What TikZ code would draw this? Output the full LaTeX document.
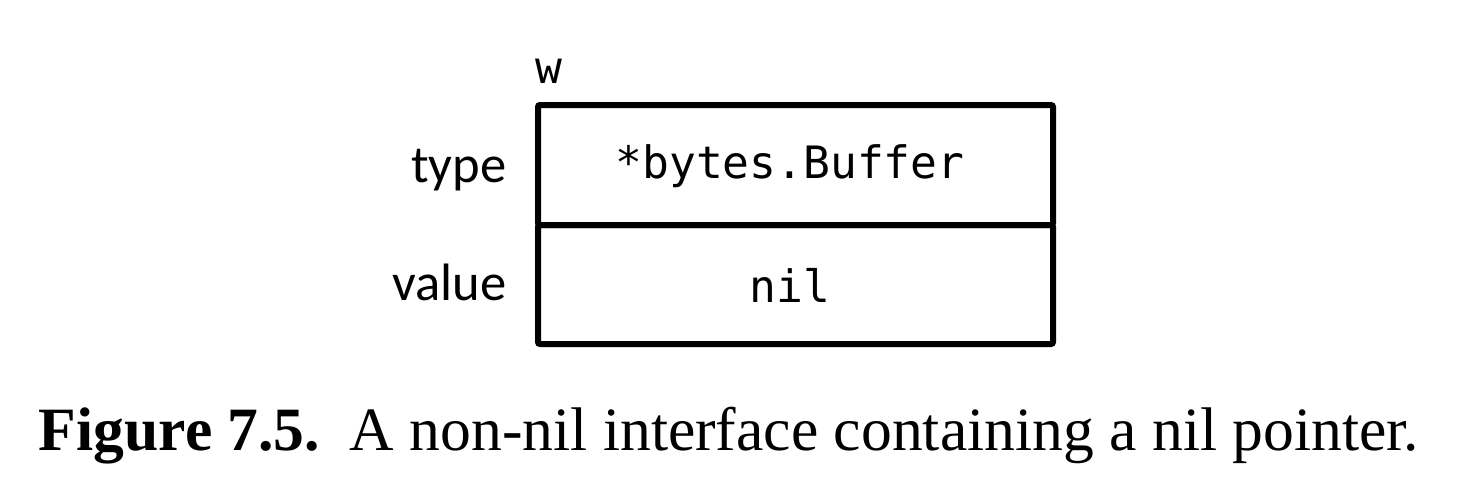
\documentclass[tikz,border=0pt]{standalone}
\usepackage{fontspec}
\setmainfont{Liberation Serif}
\newfontfamily\labelfont{Carlito}
\newfontfamily\codefont{DejaVu Sans Mono}
\begin{document}
\begin{tikzpicture}[x=0.5pt,y=-0.5pt,
  cell/.style={draw=black, line width=3pt, rounded corners=1pt, minimum width=257.5pt, inner sep=0pt, outer sep=0pt, anchor=north west},
  sidelabel/.style={font=\labelfont\fontsize{26.3}{30}\selectfont, inner sep=0pt, anchor=base east},
  code/.style={font=\codefont\fontsize{22.3}{26}\selectfont, inner sep=0pt, anchor=base},
  caption/.style={font=\fontsize{30.8}{34}\selectfont, inner sep=0pt, anchor=base}]
\useasboundingbox (0,0) rectangle (1480,484);
\node[cell, minimum height=60pt] (typecell) at (538,105) {};
\node[cell, minimum height=59.5pt] (valuecell) at (538,225) {};
\node[code, anchor=base west] (wlabel) at (535,83) {w};
\node[sidelabel] (typelabel) at (507,182) {type};
\node[sidelabel] (valuelabel) at (507,300) {value};
\node[code] (typeval) at (790,178) {*bytes.Buffer};
\node[code] (nilval) at (790,302) {nil};
\node[caption] (cap) at (729,450) {\textbf{Figure 7.5.}\hspace{0.15em} A non-nil interface containing a nil pointer.};
\end{tikzpicture}
\end{document}
